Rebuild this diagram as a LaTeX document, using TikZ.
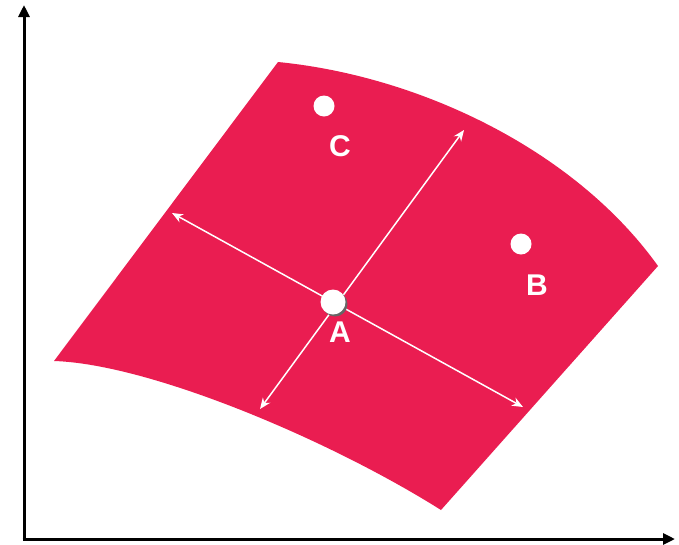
\documentclass[tikz,border=0pt]{standalone}
\usepackage{fontspec}
\setmainfont{Liberation Sans}
\usetikzlibrary{arrows.meta}
\definecolor{sheet}{HTML}{EA1D51}
\tikzset{
  axis/.style={line width=3pt,-{Triangle[length=12pt,width=11pt]}},
  dir/.style={white,line width=1.5pt,{Stealth[length=11pt,width=9pt]}-{Stealth[length=11pt,width=9pt]}},
  dot/.style={circle,fill=white,inner sep=0pt,minimum size=21pt},
  lab/.style={text=white,font=\fontsize{30}{30}\selectfont\bfseries,inner sep=0pt}
}
\begin{document}
\begin{tikzpicture}[x=1pt,y=-1pt]
\useasboundingbox (0,0) rectangle (679,544);
% axes
\coordinate (o) at (24,539);
\coordinate (ytip) at (24,5);
\coordinate (xtip) at (675,539);
\draw[axis] (o) -- (ytip);
\draw[axis] ([xshift=-1.5pt]o) -- (xtip);
% sheet
\coordinate (tl) at (278,62);
\coordinate (r) at (658,266);
\coordinate (b) at (441,510);
\coordinate (l) at (54,361);
\fill[sheet] (tl) .. controls (420,76) and (575,150) .. (r) -- (b)
  .. controls (330,440) and (150,364) .. (l) -- cycle;
% direction arrows
\coordinate (d1) at (172,213);
\coordinate (d2) at (523,407);
\coordinate (d3) at (464,130);
\coordinate (d4) at (260,409);
\draw[dir] (d1) -- (d2);
\draw[dir] (d3) -- (d4);
% points
\node[dot,fill=black!60,minimum size=25pt] (As) at (335,304) {};
\node[dot,minimum size=25pt] (A) at (333,302) {};
\node[dot] (C) at (324,106) {};
\node[dot] (B) at (521,244) {};
\node[lab] (Al) at (340,332) {A};
\node[lab] (Cl) at (340,146) {C};
\node[lab] (Bl) at (537,285) {B};
\end{tikzpicture}
\end{document}
